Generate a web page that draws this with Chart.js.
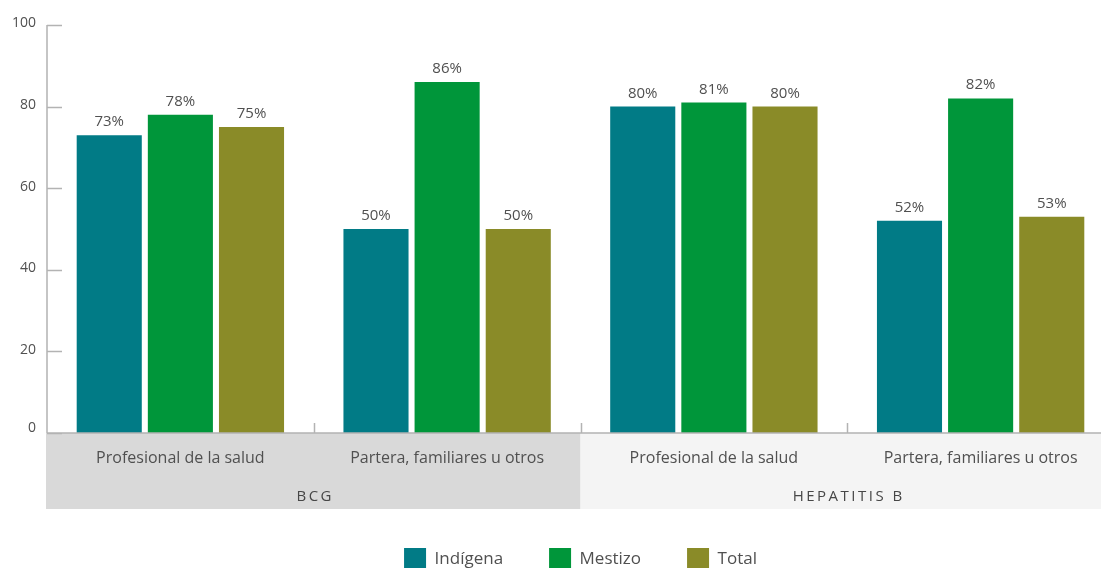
<!DOCTYPE html>
<html>
<head>
<meta charset="utf-8">
<script src="https://cdn.jsdelivr.net/npm/chart.js@4/dist/chart.umd.min.js"></script>
<style>
  html, body { margin: 0; padding: 0; background: #fff; overflow: hidden; width: 1101px; height: 568px; }
  canvas { display: block; }
</style>
</head>
<body>
<canvas id="chart" width="1120" height="580"></canvas>
<script>
// Cobertura de vacunación según quién atendió el parto
const categories = ['Profesional de la salud', 'Partera, familiares u otros', 'Profesional de la salud', 'Partera, familiares u otros'];
const groups = ['BCG', 'HEPATITIS B'];
const groupSpans = [[0, 1], [2, 3]];
const indigena = [73, 50, 80, 52];
const mestizo = [78, 86, 81, 82];
const total = [75, 50, 80, 53];
const yTicks = [0, 20, 40, 60, 80, 100];

const FONT = "'Open Sans', 'Noto Sans', sans-serif";
const TEXT = '#505050';
const AXIS = '#b3b3b3';
const bandColors = ['#d9d9d9', '#f4f4f4'];

// Category boundary (pixel) between category i and i+1
function boundary(x, i) {
    return (x.getPixelForValue(i) + x.getPixelForValue(i + 1)) / 2;
}

const decorations = {
    id: 'decorations',
    beforeDraw(chart) {
        const {ctx, chartArea: area, scales: {x}} = chart;
        const bandBottom = area.bottom + 76;
        ctx.save();
        groupSpans.forEach(([a, b], g) => {
            const left = a === 0 ? area.left - 1 : boundary(x, a - 1);
            const right = b === categories.length - 1 ? chart.width : boundary(x, b);
            ctx.fillStyle = bandColors[g];
            ctx.fillRect(left, area.bottom, right - left, bandBottom - area.bottom);
        });
        ctx.restore();
    },
    afterDatasetsDraw(chart) {
        const {ctx} = chart;
        ctx.save();
        ctx.font = `15px ${FONT}`;
        ctx.fillStyle = TEXT;
        ctx.textAlign = 'center';
        ctx.textBaseline = 'alphabetic';
        chart.data.datasets.forEach((ds, di) => {
            const meta = chart.getDatasetMeta(di);
            meta.data.forEach((bar, i) => {
                ctx.fillText(ds.data[i] + '%', bar.x, bar.y - 9);
            });
        });
        ctx.restore();
    },
    afterDraw(chart) {
        const {ctx, chartArea: area, scales: {x, y}} = chart;
        ctx.save();
        ctx.strokeStyle = AXIS;
        ctx.lineWidth = 1.5;

        // y axis line with short ticks pointing into the plot
        ctx.beginPath();
        ctx.moveTo(area.left, y.getPixelForValue(100));
        ctx.lineTo(area.left, area.bottom);
        yTicks.forEach(v => {
            const py = Math.round(y.getPixelForValue(v)) + 0.5;
            ctx.moveTo(area.left, py);
            ctx.lineTo(area.left + 15, py);
        });
        // baseline
        ctx.moveTo(area.left, area.bottom);
        ctx.lineTo(area.right, area.bottom);
        // category separators
        for (let i = 0; i < categories.length - 1; i++) {
            const bx = Math.round(boundary(x, i)) + 0.5;
            ctx.moveTo(bx, area.bottom);
            ctx.lineTo(bx, area.bottom - 10);
        }
        ctx.stroke();

        // y tick labels (the zero sits a little higher, clear of the baseline)
        ctx.font = `14px ${FONT}`;
        ctx.fillStyle = TEXT;
        ctx.textAlign = 'right';
        ctx.textBaseline = 'middle';
        yTicks.forEach(v => {
            const lift = v === 0 ? 5 : 1.5;
            ctx.fillText(String(v), area.left - 11, y.getPixelForValue(v) - lift);
        });

        // group labels inside the bands
        ctx.font = `15px ${FONT}`;
        ctx.fillStyle = '#474747';
        ctx.textAlign = 'center';
        ctx.letterSpacing = '2.5px';
        groupSpans.forEach(([a, b], g) => {
            const left = a === 0 ? area.left : boundary(x, a - 1);
            const right = b === categories.length - 1 ? area.right : boundary(x, b);
            ctx.fillText(groups[g], (left + right) / 2 + 1.5, area.bottom + 64);
        });
        ctx.restore();
    }
};

new Chart(document.getElementById('chart'), {
    type: 'bar',
    data: {
        labels: categories,
        datasets: [
            { label: 'Indígena', data: indigena, backgroundColor: '#017b86' },
            { label: 'Mestizo', data: mestizo, backgroundColor: '#00963a' },
            { label: 'Total', data: total, backgroundColor: '#8a8b28' }
        ]
    },
    options: {
        responsive: false,
        animation: false,
        categoryPercentage: 0.80,
        barPercentage: 0.915,
        layout: { padding: { left: 47, right: 6, top: 25, bottom: 0 } },
        plugins: {
            legend: {
                position: 'bottom',
                labels: {
                    boxWidth: 22,
                    boxHeight: 22,
                    padding: 46,
                    color: TEXT,
                    font: { family: FONT, size: 17 }
                }
            },
            tooltip: { enabled: false }
        },
        scales: {
            x: {
                grid: { display: false },
                border: { display: false },
                ticks: {
                    color: TEXT,
                    padding: 8,
                    font: { family: FONT, size: 16 }
                },
                afterFit(scale) { scale.height = 69; }
            },
            y: {
                display: false,
                min: 0,
                max: 100
            }
        }
    },
    plugins: [decorations]
});
</script>
</body>
</html>
